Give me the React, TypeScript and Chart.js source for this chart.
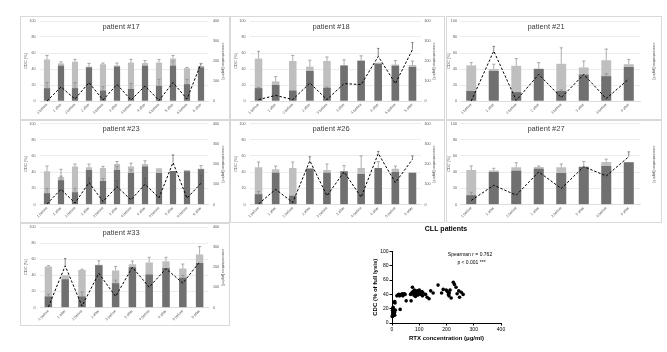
import React, { useEffect, useRef } from "react";
import { Chart, registerables } from "chart.js";

Chart.register(...registerables);

const FONT = "'Liberation Sans', Arial, Helvetica, sans-serif";

// ---------- categories ----------
const LABELS_12 = ["1 before", "1 after", "2 before", "2 after", "3 before", "3 after", "4 before", "4 after", "5 before", "5 after", "6 before", "6 after"];
const LABELS_10 = ["1 before", "1 after", "2 before", "2 after", "3 before", "3 after", "4 before", "4 after", "5 before", "5 after"];
const LABELS_8 = ["1 before", "1 after", "2 before", "2 after", "3 before", "3 after", "4 before", "4 after"];

// ---------- patient #17 ----------
const P17_LIGHT = [52, 47, 49, 43, 46, 44.5, 48, 47.5, 48, 53, 41, 44];
const P17_LIGHT_ERR = [5, 2, 3, 4, 1.5, 3, 4, 3, 4, 4, 1, 3];
const P17_DARK = [16, 44, 16, 42, 13, 43, 15, 44, 19, 44, 21, 42];
const P17_DARK_ERR = [7, 0, 7, 0, 5, 0, 7, 0, 8, 6, 6, 0];
const P17_CONC = [0, 70, 10, 92, 5, 83, 5, 75, 3, 92, 10, 187];
const P17_CONC_ERR = [0, 0, 0, 0, 0, 0, 0, 0, 0, 0, 0, 0];

// ---------- patient #18 ----------
const P18_LIGHT = [53, 24.5, 50, 43, 50, 44, 50, 48, 45.5, 45];
const P18_LIGHT_ERR = [9, 6, 7, 8, 5, 0, 0, 0, 5, 5];
const P18_DARK = [16, 20, 13, 37.5, 16.5, 44.5, 50.5, 46.5, 44, 42.5];
const P18_DARK_ERR = [1, 0, 0, 0, 1, 7, 6, 0, 0, 0];
const P18_CONC = [7, 28, 7, 90, 7, 87, 82, 223, 87, 257];
const P18_CONC_ERR = [0, 0, 0, 0, 0, 0, 0, 40, 0, 35];

// ---------- patient #21 ----------
const P21_LIGHT = [44.5, 40, 44, 40.5, 46.5, 42, 51, 46];
const P21_LIGHT_ERR = [3.5, 6, 9, 7.5, 20, 8, 14, 6];
const P21_DARK = [12.5, 37.5, 11, 40, 12.5, 33, 31, 42.5];
const P21_DARK_ERR = [0, 0, 0, 0, 1.5, 0, 3, 0];
const P21_CONC = [0, 250, 3, 133, 17, 133, 12, 110];
const P21_CONC_ERR = [0, 23, 0, 0, 0, 0, 0, 0];

// ---------- patient #23 ----------
const P23_LIGHT = [41, 34, 47, 46, 45, 50, 47, 50, 44.7, 41, 42.6, 44];
const P23_LIGHT_ERR = [6.5, 9.5, 3, 4, 2, 3, 4, 4, 0, 0, 0, 4];
const P23_DARK = [14, 30, 15, 42.6, 29, 42.6, 39, 47, 39, 41.5, 41, 43.4];
const P23_DARK_ERR = [6, 5, 5, 0, 3, 4.5, 4, 0, 0, 0, 0, 0];
const P23_CONC = [3, 75, 7, 108, 15, 88, 23, 100, 33, 207, 31, 105];
const P23_CONC_ERR = [0, 0, 0, 22, 0, 30, 0, 30, 0, 38, 0, 40];

// ---------- patient #26 ----------
const P26_LIGHT = [46, 43.5, 45, 44, 42.6, 40.5, 45, 44, 44, 39.3];
const P26_LIGHT_ERR = [6.5, 4, 7.5, 0, 7.4, 0, 15, 0, 3.5, 0];
const P26_DARK = [12.7, 39.3, 10.7, 44.5, 39.3, 41, 37.7, 45, 40, 39.3];
const P26_DARK_ERR = [3.3, 0, 0, 0, 0, 7, 0, 8, 0, 0];
const P26_CONC = [3, 75, 10, 216, 43, 161, 36, 252, 108, 223];
const P26_CONC_ERR = [0, 0, 0, 20, 0, 0, 0, 10, 0, 17];

// ---------- patient #27 ----------
const P27_LIGHT = [42.6, 42, 46, 46.3, 46, 46, 52.5, 52];
const P27_LIGHT_ERR = [5, 2.7, 5.6, 1.2, 4, 0, 3.5, 0];
const P27_DARK = [11.5, 40, 41.8, 44, 39, 46.7, 47.5, 52.3];
const P27_DARK_ERR = [3.5, 0, 0, 0, 0, 6.3, 0, 0];
const P27_CONC = [20, 95, 46, 161, 79, 187, 141, 236];
const P27_CONC_ERR = [0, 0, 0, 0, 0, 0, 0, 24];

// ---------- patient #33 ----------
const P33_LIGHT = [51, 40, 46.7, 53, 46, 53.7, 56, 57.4, 48.3, 65.7];
const P33_LIGHT_ERR = [1, 0, 0.8, 5, 5, 4, 6.4, 5, 5.7, 10];
const P33_DARK = [13.6, 35, 13.6, 52.5, 30, 50, 41, 49, 37, 55.4];
const P33_DARK_ERR = [3, 0, 5.8, 0, 4, 0, 0, 0, 3, 0];
const P33_CONC = [3, 207, 7, 170, 55, 200, 101, 193, 121, 226];
const P33_CONC_ERR = [0, 36, 0, 0, 0, 0, 0, 0, 0, 0];

// ---------- CLL patients scatter ----------
const SC_RTX = [2, 3, 4, 5, 3, 6, 2, 7, 4, 8, 5, 3, 10, 6, 9, 1, 12, 8, 11, 10,
  18, 22, 28, 32, 35, 40, 45, 48, 25, 38, 30, 52, 70, 75,
  68, 72, 78, 80, 82, 85, 88, 90, 92, 95, 98, 100, 102, 105, 108, 110, 112, 114, 80, 90, 95, 86, 100, 75,
  123, 129, 136, 142, 151, 169, 182, 188,
  199, 203, 207, 210, 213, 217, 209, 225, 229, 235, 239, 245, 248, 254, 261];
const SC_CDC = [18, 15, 12, 10, 20, 14, 11, 17, 22, 12, 16, 13, 11, 19, 15, 9, 18, 29, 28, 30,
  38, 39, 38, 39, 40, 38, 41, 40, 40, 41, 19, 31, 31, 50,
  40, 42, 44, 39, 46, 41, 43, 40, 45, 42, 44, 41, 43, 40, 42, 44, 38, 42, 42, 43, 39, 37, 46, 43,
  40, 36, 34, 45, 42, 53, 42, 47,
  46, 44, 40, 42, 46, 35, 38, 57, 54, 50, 41, 45, 36, 43, 40];

type PanelData = {
  title: string;
  labels: string[];
  light: number[];
  lightErr: number[];
  dark: number[];
  darkErr: number[];
  conc: number[];
  concErr: number[];
};

const PANELS: PanelData[] = [
  { title: "patient #17", labels: LABELS_12, light: P17_LIGHT, lightErr: P17_LIGHT_ERR, dark: P17_DARK, darkErr: P17_DARK_ERR, conc: P17_CONC, concErr: P17_CONC_ERR },
  { title: "patient #18", labels: LABELS_10, light: P18_LIGHT, lightErr: P18_LIGHT_ERR, dark: P18_DARK, darkErr: P18_DARK_ERR, conc: P18_CONC, concErr: P18_CONC_ERR },
  { title: "patient #21", labels: LABELS_8, light: P21_LIGHT, lightErr: P21_LIGHT_ERR, dark: P21_DARK, darkErr: P21_DARK_ERR, conc: P21_CONC, concErr: P21_CONC_ERR },
  { title: "patient #23", labels: LABELS_12, light: P23_LIGHT, lightErr: P23_LIGHT_ERR, dark: P23_DARK, darkErr: P23_DARK_ERR, conc: P23_CONC, concErr: P23_CONC_ERR },
  { title: "patient #26", labels: LABELS_10, light: P26_LIGHT, lightErr: P26_LIGHT_ERR, dark: P26_DARK, darkErr: P26_DARK_ERR, conc: P26_CONC, concErr: P26_CONC_ERR },
  { title: "patient #27", labels: LABELS_8, light: P27_LIGHT, lightErr: P27_LIGHT_ERR, dark: P27_DARK, darkErr: P27_DARK_ERR, conc: P27_CONC, concErr: P27_CONC_ERR },
  { title: "patient #33", labels: LABELS_10, light: P33_LIGHT, lightErr: P33_LIGHT_ERR, dark: P33_DARK, darkErr: P33_DARK_ERR, conc: P33_CONC, concErr: P33_CONC_ERR },
];

// ---------- layout geometry (page pixels) ----------
const COLS = [
  { x: 20, w: 210, pl: 40, pr: 208, tx: 121, leftTitle: 26, rightTitle: 223, lPad: 4.5, rPad: 5 },
  { x: 230, w: 215, pl: 250, pr: 421, tx: 331, leftTitle: 236, rightTitle: 434, lPad: 4.5, rPad: 3.5 },
  { x: 446, w: 216, pl: 460, pr: 640, tx: 546, leftTitle: 449, rightTitle: 654, lPad: 3, rPad: 5 },
];
const ROWS = [
  { y: 16, h: 104, pt: 21, pb: 101 },
  { y: 120, h: 103, pt: 123.5, pb: 204.5 },
  { y: 223, h: 103, pt: 227, pb: 307.5 },
];

const errorBars = {
  id: "errorBars",
  afterDatasetsDraw(chart: any) {
    const ctx = chart.ctx;
    chart.data.datasets.forEach((ds: any, i: number) => {
      const errs = ds.errorValues;
      if (!errs) return;
      const meta = chart.getDatasetMeta(i);
      const scale = chart.scales[meta.yAxisID];
      ctx.save();
      ctx.strokeStyle = ds.errorColor || "#7f7f7f";
      ctx.lineWidth = 0.7;
      meta.data.forEach((el: any, j: number) => {
        const e = errs[j];
        if (!e) return;
        const v = ds.data[j];
        const x = el.x;
        const y0 = scale.getPixelForValue(v);
        const y1 = scale.getPixelForValue(v + e);
        const cap = ds.errorCap ?? 1.6;
        ctx.beginPath();
        ctx.moveTo(x, y0);
        ctx.lineTo(x, y1);
        ctx.moveTo(x - cap, y1);
        ctx.lineTo(x + cap, y1);
        ctx.stroke();
      });
      ctx.restore();
    });
  },
};

function Panel({ data, col, row }: { data: PanelData; col: number; row: number }) {
  const ref = useRef<HTMLCanvasElement>(null);
  const c = COLS[col];
  const r = ROWS[row];
  const cw = c.w - 2;
  const ch = r.h - 2;
  useEffect(() => {
    const ox = c.x + 1;
    const oy = r.y + 1;
    const R = cw - 2 * (c.tx - ox);
    const leftW = c.pl - ox;
    const axisRight = ox + cw - R;
    const rightW = axisRight - c.pr;
    const topPad = r.pt - oy;
    const xH = oy + ch - r.pb;
    const titleSize = 7.5;
    const lh = titleSize * 1.2;
    const ty = r.pt + 5.8;
    const tPadTop = ty - oy - lh / 2;
    const tPadBottom = topPad - lh - tPadTop;
    const axLh = 4 * 1.2;
    const leftTitlePad = c.leftTitle - ox - axLh / 2;
    const rightTitlePad = axisRight - c.rightTitle - axLh / 2;
    const tickFont = { family: FONT, size: 3.7 };

    const chart = new Chart(ref.current as HTMLCanvasElement, {
      type: "bar",
      data: {
        labels: data.labels,
        datasets: [
          {
            type: "line",
            data: data.conc,
            yAxisID: "y1",
            borderColor: "#000",
            borderWidth: 1,
            borderDash: [2.5, 1.8],
            pointRadius: 0,
            tension: 0,
            fill: false,
            order: 0,
            errorValues: data.concErr,
            errorColor: "#555",
            errorCap: 1.2,
          } as any,
          {
            type: "bar",
            data: data.dark,
            yAxisID: "y",
            backgroundColor: "#707070",
            grouped: false,
            barPercentage: 0.44,
            categoryPercentage: 1,
            order: 1,
            errorValues: data.darkErr,
            errorColor: "#8a8a8a",
          } as any,
          {
            type: "bar",
            data: data.light,
            yAxisID: "y",
            backgroundColor: "#bfbfbf",
            grouped: false,
            barPercentage: 0.44,
            categoryPercentage: 1,
            order: 2,
            errorValues: data.lightErr,
            errorColor: "#8a8a8a",
          } as any,
        ],
      },
      options: {
        responsive: false,
        animation: false,
        devicePixelRatio: 1,
        layout: { padding: { left: 0, right: R, top: 0, bottom: 0 } },
        plugins: {
          legend: { display: false },
          tooltip: { enabled: false },
          title: {
            display: true,
            text: data.title,
            color: "#404040",
            font: { family: FONT, size: titleSize, weight: "normal", lineHeight: 1.2 },
            padding: { top: tPadTop, bottom: tPadBottom },
          },
        },
        scales: {
          x: {
            grid: { display: false, drawTicks: false },
            border: { display: true, color: "#d9d9d9", width: 0.8 },
            ticks: { font: tickFont, color: "#595959", minRotation: 45, maxRotation: 45, autoSkip: false, padding: 1.5 },
            afterFit: (s: any) => {
              s.height = xH;
              s.paddingLeft = 0;
              s.paddingRight = 0;
            },
          },
          y: {
            position: "left",
            min: 0,
            max: 100,
            ticks: { stepSize: 20, font: tickFont, color: "#595959", padding: c.lPad },
            grid: { color: "#e4e4e4", lineWidth: 0.7, drawTicks: false },
            border: { display: false },
            title: {
              display: true,
              text: "CDC [%]",
              color: "#595959",
              font: { family: FONT, size: 4, lineHeight: 1.2 },
              padding: { top: leftTitlePad, bottom: 0 },
            },
            afterFit: (s: any) => {
              s.width = leftW;
              s.paddingTop = 0;
              s.paddingBottom = 0;
            },
          },
          y1: {
            position: "right",
            min: 0,
            max: 400,
            ticks: { stepSize: 100, font: tickFont, color: "#595959", padding: c.rPad },
            grid: { display: false, drawTicks: false, drawOnChartArea: false },
            border: { display: false },
            title: {
              display: true,
              text: "concentration [µg/ml]",
              color: "#595959",
              font: { family: FONT, size: 4, lineHeight: 1.2 },
              padding: { top: rightTitlePad, bottom: 0 },
            },
            afterFit: (s: any) => {
              s.width = rightW;
              s.paddingTop = 0;
              s.paddingBottom = 0;
            },
          },
        },
      } as any,
      plugins: [errorBars as any],
    });
    return () => chart.destroy();
  }, []);
  return (
    <div
      style={{
        position: "absolute",
        left: c.x,
        top: r.y,
        width: c.w,
        height: r.h,
        border: "1px solid #d9d9d9",
        boxSizing: "border-box",
        background: "#fff",
      }}
    >
      <canvas ref={ref} width={cw} height={ch} style={{ display: "block", width: cw, height: ch }} />
    </div>
  );
}

// scatter geometry
const SC_BOX = { x: 360, y: 222, w: 172, h: 130 };
const SC_AREA = { l: 392, r: 501, t: 251.5, b: 323 };

const statsText = {
  id: "statsText",
  afterDraw(chart: any) {
    const ctx = chart.ctx;
    ctx.save();
    ctx.fillStyle = "#000";
    ctx.font = `5px ${FONT}`;
    ctx.textAlign = "center";
    ctx.textBaseline = "middle";
    const lines = chart.options.plugins.statsText.lines as string[];
    const pos = chart.options.plugins.statsText.pos as number[][];
    lines.forEach((t, i) => ctx.fillText(t, pos[i][0], pos[i][1]));
    ctx.restore();
  },
};

function Scatter() {
  const ref = useRef<HTMLCanvasElement>(null);
  useEffect(() => {
    const ox = SC_BOX.x;
    const oy = SC_BOX.y;
    const leftW = SC_AREA.l - ox;
    const rightW = ox + SC_BOX.w - SC_AREA.r;
    const topH = SC_AREA.t - oy;
    const xH = oy + SC_BOX.h - SC_AREA.b;
    const tLh = 7 * 1.2;
    const tPadTop = 229.5 - oy - tLh / 2;
    const tPadBottom = topH - tLh - tPadTop;
    const axLh = 6 * 1.2;
    const yTitlePad = 375 - ox - axLh / 2;
    const xTitlePad = oy + SC_BOX.h - 338 - axLh / 2;
    const tickFont = { family: FONT, size: 5 };
    const chart = new Chart(ref.current as HTMLCanvasElement, {
      type: "scatter",
      data: {
        datasets: [
          {
            data: SC_RTX.map((x, i) => ({ x, y: SC_CDC[i] })),
            backgroundColor: "#000",
            borderColor: "#000",
            pointRadius: 1.8,
            borderWidth: 0,
            clip: false,
          } as any,
        ],
      },
      options: {
        responsive: false,
        animation: false,
        devicePixelRatio: 1,
        layout: { padding: 0 },
        plugins: {
          legend: { display: false },
          tooltip: { enabled: false },
          title: {
            display: true,
            text: "CLL patients",
            color: "#000",
            font: { family: FONT, size: 7, weight: "bold", lineHeight: 1.2 },
            padding: { top: tPadTop, bottom: tPadBottom },
          },
          statsText: {
            lines: ["Spearman r = 0.762", "p < 0.001 ***"],
            pos: [
              [470 - ox, 255 - oy],
              [471.5 - ox, 262.5 - oy],
            ],
          },
        },
        scales: {
          x: {
            type: "linear",
            min: 0,
            max: 400,
            ticks: { stepSize: 100, font: tickFont, color: "#000", padding: 1 },
            grid: { display: true, drawOnChartArea: false, drawTicks: true, tickLength: 2.5, color: "#000", lineWidth: 1 },
            border: { display: true, color: "#000", width: 1 },
            title: {
              display: true,
              text: "RTX concentration (μg/ml)",
              color: "#000",
              font: { family: FONT, size: 6, weight: "bold", lineHeight: 1.2 },
              padding: { top: 0, bottom: xTitlePad },
            },
            afterFit: (s: any) => {
              s.height = xH;
              s.paddingLeft = 0;
              s.paddingRight = 0;
            },
          },
          y: {
            type: "linear",
            position: "left",
            min: 0,
            max: 100,
            ticks: { stepSize: 20, font: tickFont, color: "#000", padding: 1 },
            grid: { display: true, drawOnChartArea: false, drawTicks: true, tickLength: 2.5, color: "#000", lineWidth: 1 },
            border: { display: true, color: "#000", width: 1 },
            title: {
              display: true,
              text: "CDC (% of full lysis)",
              color: "#000",
              font: { family: FONT, size: 6, weight: "bold", lineHeight: 1.2 },
              padding: { top: yTitlePad, bottom: 0 },
            },
            afterFit: (s: any) => {
              s.width = leftW;
              s.paddingTop = 0;
              s.paddingBottom = 0;
            },
          },
          yPad: {
            type: "linear",
            position: "right",
            display: true,
            ticks: { display: false },
            grid: { display: false, drawTicks: false },
            border: { display: false },
            afterFit: (s: any) => {
              s.width = rightW;
              s.paddingTop = 0;
              s.paddingBottom = 0;
            },
          },
        },
      } as any,
      plugins: [statsText as any],
    });
    return () => chart.destroy();
  }, []);
  return (
    <div style={{ position: "absolute", left: SC_BOX.x, top: SC_BOX.y, width: SC_BOX.w, height: SC_BOX.h }}>
      <canvas ref={ref} width={SC_BOX.w} height={SC_BOX.h} style={{ display: "block", width: SC_BOX.w, height: SC_BOX.h }} />
    </div>
  );
}

const GRID_POS = [
  [0, 0],
  [1, 0],
  [2, 0],
  [0, 1],
  [1, 1],
  [2, 1],
  [0, 2],
];

export default function App() {
  return (
    <div>
      {PANELS.map((p, i) => (
        <Panel key={p.title} data={p} col={GRID_POS[i][0]} row={GRID_POS[i][1]} />
      ))}
      <Scatter />
    </div>
  );
}
